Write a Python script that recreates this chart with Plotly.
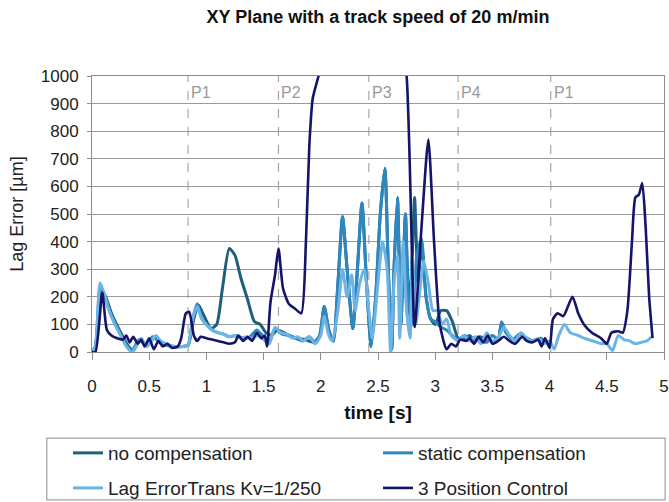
import plotly.graph_objects as go

# ---------------- data ----------------
t_nocomp = [0, 0.03, 0.08, 0.12, 0.17, 0.22, 0.27, 0.32, 0.36, 0.42, 0.48, 0.55, 0.62, 0.7, 0.78, 0.84,
            0.89, 0.93, 0.98, 1.04, 1.09, 1.14, 1.2, 1.25, 1.3, 1.36, 1.42, 1.47, 1.52, 1.57, 1.62, 1.7,
            1.78, 1.86, 1.94, 1.99, 2.03, 2.07, 2.11, 2.15, 2.19, 2.23, 2.28, 2.32, 2.36, 2.4, 2.44, 2.48,
            2.52, 2.56, 2.59, 2.62, 2.64, 2.67, 2.7, 2.72, 2.74, 2.77, 2.8, 2.82, 2.85, 2.88, 2.92, 2.96,
            3.0, 3.05, 3.1, 3.15, 3.2, 3.25, 3.3, 3.35, 3.4, 3.45, 3.5, 3.55, 3.58, 3.62, 3.68, 3.74,
            3.8, 3.86, 3.92, 3.97, 4.02]
v_nocomp = [0, 20, 225, 200, 140, 95, 55, 20, 5, 45, 25, 55, 30, 20, 20, 25,
            120, 170, 130, 85, 100, 230, 375, 350, 270, 190, 110, 100, 70, 60, 80, 65,
            50, 45, 35, 60, 165, 80, 40, 250, 490, 300, 85, 300, 540, 250, 20, 200,
            500, 665, 300, 10, 300, 560, 100, 300, 500, 150, 350, 560, 250, 400, 200, 120,
            100, 150, 150, 110, 50, 45, 60, 40, 55, 35, 60, 45, 105, 70, 45, 65,
            50, 40, 50, 35, 30]

t_static = [0, 0.03, 0.07, 0.11, 0.16, 0.21, 0.26, 0.31, 0.35, 0.41, 0.47, 0.53, 0.59, 0.66, 0.73, 0.8,
            0.84, 0.88, 0.92, 0.96, 1.0, 1.05, 1.1, 1.15, 1.2, 1.26, 1.32, 1.38, 1.44, 1.49, 1.54, 1.6,
            1.66, 1.72, 1.78, 1.84, 1.9, 1.95, 1.99, 2.03, 2.07, 2.11, 2.15, 2.19, 2.23, 2.28, 2.32, 2.36,
            2.4, 2.44, 2.48, 2.52, 2.56, 2.59, 2.62, 2.64, 2.67, 2.7, 2.72, 2.74, 2.77, 2.8, 2.84, 2.88,
            2.92, 2.96, 3.0, 3.05, 3.1, 3.15, 3.2, 3.26, 3.32, 3.38, 3.44, 3.5, 3.55, 3.58, 3.62, 3.68,
            3.74, 3.8, 3.86, 3.92, 3.97, 4.02]
v_static = [0, 20, 235, 200, 140, 95, 55, 20, 5, 45, 25, 55, 35, 25, 20, 20,
            25, 120, 175, 120, 100, 80, 70, 65, 55, 60, 50, 55, 80, 60, 30, 85,
            65, 60, 50, 40, 55, 35, 60, 165, 80, 40, 250, 490, 300, 85, 300, 540,
            250, 20, 200, 500, 665, 300, 10, 300, 560, 100, 300, 500, 150, 100, 350, 410,
            200, 120, 110, 90, 80, 60, 45, 60, 40, 55, 35, 60, 45, 110, 70, 45,
            65, 50, 40, 50, 35, 30]

t_lag = [0, 0.03, 0.07, 0.1, 0.15, 0.2, 0.25, 0.3, 0.35, 0.4, 0.43, 0.48, 0.52, 0.56, 0.6, 0.65,
         0.7, 0.75, 0.8, 0.84, 0.88, 0.92, 0.96, 1.0, 1.05, 1.1, 1.15, 1.2, 1.25, 1.3, 1.35, 1.4,
         1.45, 1.5, 1.55, 1.6, 1.65, 1.7, 1.75, 1.8, 1.85, 1.9, 1.95, 2.0, 2.03, 2.07, 2.1, 2.15,
         2.19, 2.23, 2.27, 2.3, 2.34, 2.38, 2.42, 2.45, 2.5, 2.54, 2.58, 2.61, 2.64, 2.67, 2.69, 2.72,
         2.75, 2.78, 2.8, 2.83, 2.86, 2.9, 2.94, 2.98, 3.02, 3.06, 3.1, 3.14, 3.2, 3.25, 3.3, 3.35,
         3.4, 3.45, 3.5, 3.55, 3.6, 3.65, 3.7, 3.75, 3.8, 3.85, 3.9, 3.95, 4.0, 4.04, 4.08, 4.13,
         4.18, 4.25, 4.3, 4.38, 4.45, 4.5, 4.55, 4.6, 4.65, 4.7, 4.75, 4.8, 4.85, 4.89]
v_lag = [0, 20, 250, 220, 150, 100, 60, 20, 0, 30, 50, 20, 40, 60, 40, 30,
         20, 20, 20, 25, 120, 165, 120, 100, 80, 70, 65, 55, 60, 50, 55, 50,
         60, 45, 30, 90, 70, 65, 50, 55, 40, 55, 30, 60, 130, 60, 40, 150,
         300, 200, 280, 150, 250, 300, 150, 50, 250, 400, 300, 0, 250, 350, 50, 400,
         150, 50, 350, 100, 200, 330, 250, 150, 150, 100, 120, 60, 40, 60, 40, 55,
         30, 70, 40, 50, 90, 60, 40, 70, 50, 40, 50, 30, 40, 10, 60, 100,
         70, 60, 50, 40, 30, 30, 5, 60, 45, 40, 30, 35, 40, 55]

t_3pos = [0, 0.03, 0.09, 0.13, 0.17, 0.22, 0.27, 0.3, 0.33, 0.36, 0.4, 0.43, 0.46, 0.5, 0.54, 0.58,
          0.62, 0.66, 0.7, 0.75, 0.78, 0.82, 0.85, 0.89, 0.92, 0.95, 1.0, 1.05, 1.1, 1.15, 1.2, 1.25,
          1.28, 1.32, 1.36, 1.4, 1.44, 1.48, 1.51, 1.53, 1.56, 1.6, 1.63, 1.67, 1.72, 1.78, 1.83, 1.87,
          1.9, 1.93, 1.98, 2.1, 2.4, 2.65, 2.75, 2.82, 2.88, 2.94, 2.99, 3.04, 3.1, 3.14, 3.18, 3.22,
          3.27, 3.3, 3.34, 3.38, 3.42, 3.46, 3.5, 3.55, 3.6, 3.65, 3.7, 3.76, 3.8, 3.85, 3.9, 3.93,
          3.96, 4.0, 4.03, 4.07, 4.12, 4.2, 4.25, 4.3, 4.37, 4.45, 4.5, 4.54, 4.6, 4.64, 4.68, 4.72,
          4.75, 4.78, 4.81, 4.84, 4.87, 4.9]
v_3pos = [0, 0, 215, 80, 60, 50, 45, 60, 35, 55, 30, 45, 20, 50, 10, 40,
          20, 30, 15, 20, 50, 140, 145, 60, 40, 55, 50, 45, 40, 35, 30, 35,
          60, 40, 55, 40, 70, 50, 60, 20, 180, 280, 375, 230, 175, 155, 140, 400,
          750, 920, 1000, 1200, 1400, 1300, 1000, 90, 450, 770, 400, 100, 10, 30, 20, 45,
          40, 50, 30, 55, 35, 60, 30, 40, 55, 40, 30, 55, 40, 35, 45, 20,
          50, 15, 120, 140, 130, 200, 140, 100, 70, 50, 30, 70, 75, 70, 150, 400,
          560, 570, 612, 450, 200, 50]

series_names = ["no compensation", "static compensation", "Lag ErrorTrans Kv=1/250", "3 Position Control"]
series_t = [t_nocomp, t_static, t_lag, t_3pos]
series_v = [v_nocomp, v_static, v_lag, v_3pos]

phase_times = [0.84, 1.63, 2.42, 3.2, 4.01]
phase_labels = ["P1", "P2", "P3", "P4", "P1"]

x_ticks = [0, 0.5, 1, 1.5, 2, 2.5, 3, 3.5, 4, 4.5, 5]
y_ticks = [0, 100, 200, 300, 400, 500, 600, 700, 800, 900, 1000]

# ---------------- styling ----------------
colors = ["#1F5F7E", "#2C88BE", "#6CB4E6", "#14146A"]
widths = [3, 3, 3, 2.6]
legend_ids = ["legend", "legend2", "legend3", "legend4"]
FONT = "Arial, Liberation Sans, Helvetica, sans-serif"

fig = go.Figure()
for name, t, v, c, w, lg in zip(series_names, series_t, series_v, colors, widths, legend_ids):
    fig.add_trace(go.Scatter(x=t, y=v, mode="lines", name=name, legend=lg,
                             line=dict(color=c, width=w, shape="spline", smoothing=0.6)))

shapes = []
annotations = []
for pt, pl in zip(phase_times, phase_labels):
    shapes.append(dict(type="line", xref="x", yref="y", x0=pt, x1=pt, y0=0, y1=1000,
                       line=dict(color="#A8A8A8", width=1.2, dash="dash"), layer="below"))
    annotations.append(dict(x=pt, y=940, xref="x", yref="y", text=pl, showarrow=False,
                            xanchor="left", yanchor="middle", xshift=1,
                            font=dict(family=FONT, size=16, color="#9A9A9A")))

# legend frame
shapes.append(dict(type="rect", xref="paper", yref="paper", x0=-0.079, x1=1.002, y0=-0.536, y1=-0.312,
                   line=dict(color="#A0A0A0", width=1.2), fillcolor="rgba(0,0,0,0)"))

leg_common = dict(orientation="h", xanchor="left", yanchor="middle", bgcolor="rgba(0,0,0,0)",
                  font=dict(family=FONT, size=19, color="#222222"))

fig.update_layout(
    width=669, height=502,
    margin=dict(l=92, r=5, t=76, b=150, autoexpand=False),
    paper_bgcolor="white", plot_bgcolor="white",
    font=dict(family=FONT, color="#222222"),
    title=dict(text="<b>XY Plane with a track speed of 20 m/min</b>", x=0.5, xanchor="center",
               xref="paper", y=1 - 17 / 502, yref="container", yanchor="middle",
               font=dict(family=FONT, size=18, color="#111111")),
    xaxis=dict(range=[0, 5], tickvals=x_ticks, ticktext=[f"{v:g}" for v in x_ticks],
               showgrid=False, zeroline=False, showline=True, linecolor="#8C8C8C", linewidth=1,
               mirror=True, ticks="outside", ticklen=7, tickcolor="#8C8C8C",
               ticklabelstandoff=12, automargin=False,
               tickfont=dict(family=FONT, size=17, color="#222222"),
               title=dict(text="<b>time [s]</b>", standoff=10,
                          font=dict(family=FONT, size=19, color="#111111"))),
    yaxis=dict(range=[0, 1000], tickvals=y_ticks, showgrid=True, gridcolor="#9A9A9A", gridwidth=1,
               zeroline=False, showline=True, linecolor="#8C8C8C", linewidth=1, mirror=True,
               ticks="outside", ticklen=4, tickcolor="#8C8C8C", automargin=False,
               ticklabelstandoff=5,
               tickfont=dict(family=FONT, size=17, color="#222222"),
               title=dict(text="Lag Error [µm]", standoff=12,
                          font=dict(family=FONT, size=18, color="#222222"))),
    legend=dict(x=-0.042, y=-0.366, **leg_common),
    legend2=dict(x=0.5, y=-0.366, **leg_common),
    legend3=dict(x=-0.042, y=-0.493, **leg_common),
    legend4=dict(x=0.5, y=-0.493, **leg_common),
    shapes=shapes,
    annotations=annotations,
    showlegend=True,
)

fig.write_html("out.html", config={"displayModeBar": False},
               post_script="document.body.style.margin='0';document.body.style.overflow='hidden';")
